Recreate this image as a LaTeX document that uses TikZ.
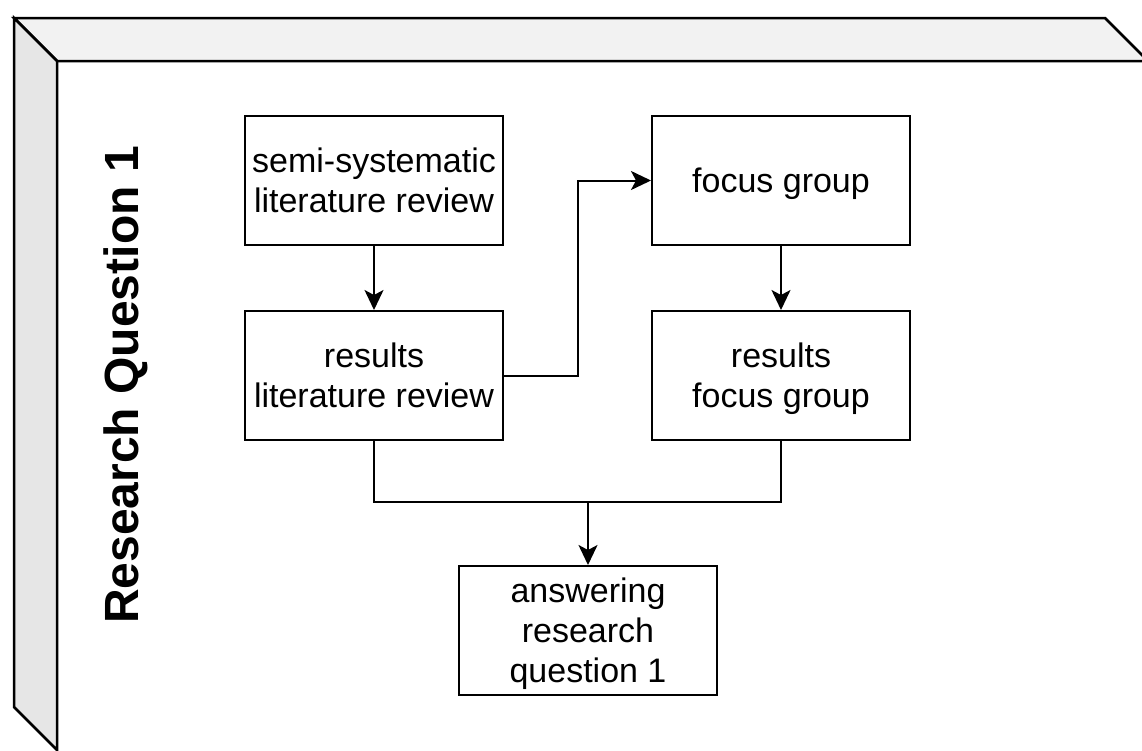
\documentclass[tikz,border=0pt]{standalone}
\usepackage{fontspec}
\setmainfont{Liberation Sans}
\usetikzlibrary{arrows.meta,calc}
\definecolor{topface}{HTML}{F2F2F2}
\definecolor{sideface}{HTML}{E6E6E6}
\tikzset{
  stepbox/.style={draw=black, line width=2pt, fill=white, minimum width=258pt, minimum height=129pt,
    inner sep=0pt, align=center, text depth=0pt, font=\fontsize{34}{40}\selectfont},
  conn/.style={draw=black, line width=2pt},
  arr/.style={conn, -{Stealth[length=20pt,width=19pt,inset=5pt]}},
  outline/.style={draw=black, line width=2.5pt, line join=miter}
}
\begin{document}
\begin{tikzpicture}[x=1pt,y=-1pt]
\useasboundingbox (0,0) rectangle (1142,750);
\clip (0,0) rectangle (1142,750);
% 3D box
\fill[white] (57,61) rectangle (1160,770);
\path[outline, fill=topface] (14,18) -- (1105,18) -- (1148,61) -- (57,61) -- cycle;
\path[outline, fill=sideface] (14,18) -- (57,61) -- (57,750) -- (14,707) -- cycle;
\draw[outline] (57,61) -- (1160,61);
\draw[outline] (57,61) -- (57,770);
% title
\node[rotate=90, font=\fontsize{48}{56}\selectfont\bfseries, inner sep=0pt] (title) at (126,385) {Research Question 1};
% boxes
\node[stepbox] (b1) at (374,180.5) {semi-systematic\\literature review};
\node[stepbox] (b2) at (374,375.5) {results\\literature review};
\node[stepbox] (b3) at (781,180.5) {focus group};
\node[stepbox] (b4) at (781,375.5) {results\\focus group};
\node[stepbox] (b5) at (588,630.5) {answering\\research\\question 1};
% connectors
\coordinate (j1) at ($(b2.east)!0.5!(b3.west)$);
\coordinate (j2) at ($(b5.north)+(0,-63)$);
\draw[arr] (b1.south) -- (b2.north);
\draw[arr] (b3.south) -- (b4.north);
\draw[arr] (b2.east) -| (j1) |- (b3.west);
\draw[conn] (b2.south) -- (b2.south |- j2) -- (b4.south |- j2) -- (b4.south);
\draw[arr] (j2) -- (b5.north);
\end{tikzpicture}
\end{document}
